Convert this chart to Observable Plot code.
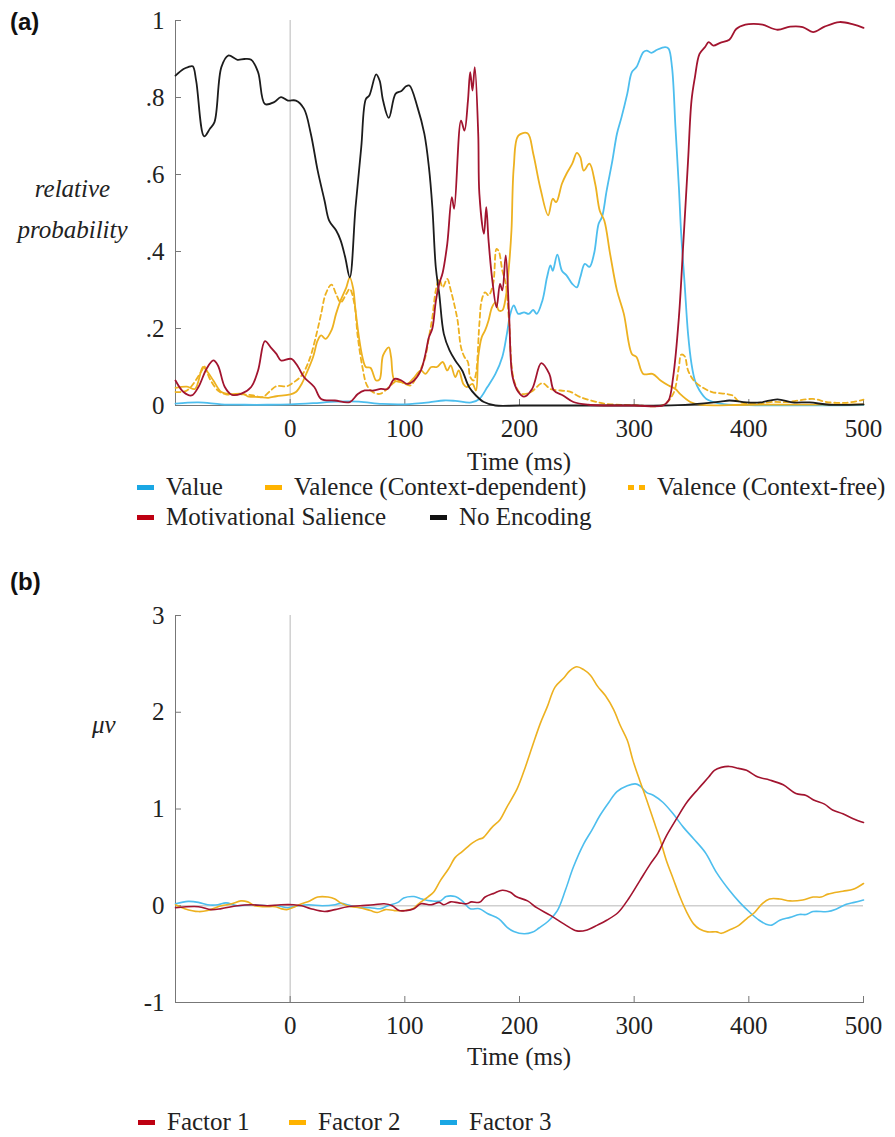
<!DOCTYPE html>
<html><head><meta charset="utf-8">
<script src="https://cdn.jsdelivr.net/npm/d3@7"></script>
<script src="https://cdn.jsdelivr.net/npm/@observablehq/plot@0.6"></script>
<style>
body{margin:0;background:#fff;}
#wrap{position:relative;width:895px;height:1137px;font-family:"Liberation Serif","Times New Roman",serif;color:#222;overflow:hidden}
.abs{position:absolute;white-space:nowrap;line-height:30px;height:30px}
.panel{font-family:"Liberation Sans",Arial,sans-serif;font-weight:bold;font-size:24px;color:#111;}
.lab{font-size:25px;}
.it{font-style:italic;}
.item{position:absolute;display:flex;align-items:center;font-size:25px;height:26px;line-height:26px;white-space:nowrap}
.sw{width:17px;height:5px;margin-right:12px;flex:none}
.svgbox{position:absolute;left:0}
</style></head>
<body><div id="wrap"></div>
<script>
// ---------- axis ticks ----------
const xTicks = [0, 100, 200, 300, 400, 500];
const xTickLabels = ["0", "100", "200", "300", "400", "500"];
const yTicksA = [0, 0.2, 0.4, 0.6, 0.8, 1];
const yTickLabelsA = ["0", ".2", ".4", ".6", ".8", "1"];
const yTicksB = [-1, 0, 1, 2, 3];
const yTickLabelsB = ["-1", "0", "1", "2", "3"];

// ---------- panel (a): relative probability ----------
const noEncT = [-100,-93,-89,-85,-82,-75,-70,-66,-60,-54,-46,-40,-34,-28,-22,-14,-8,-2,5,12,18,24,30,34,40,44,48,52,57,62,66,69,75,78,81,86,92,97,101,104,111,117,121,124,127,130,134,139,144,150,156,162,169,179,200,250,300,325,350,375,383,398,410,425,438,453,470,500];
const noEncP = [0.857,0.874,0.879,0.881,0.844,0.699,0.719,0.736,0.879,0.909,0.898,0.900,0.898,0.866,0.783,0.788,0.801,0.792,0.792,0.771,0.706,0.61,0.532,0.48,0.455,0.429,0.385,0.333,0.515,0.671,0.796,0.805,0.860,0.844,0.792,0.747,0.81,0.817,0.829,0.831,0.775,0.706,0.619,0.515,0.359,0.29,0.186,0.143,0.117,0.091,0.048,0.026,0.009,0.0,0.0,0.0,0.0,0.0,0.003,0.01,0.013,0.008,0.008,0.016,0.008,0.008,0.002,0.003];

const salT = [-100,-93,-86,-80,-73,-67,-63,-57,-51,-43,-34,-28,-22,-17,-12,-8,1,7,12,21,27,39,52,59,65,73,79,85,91,97,102,108,114,118,121,124,127,130,133,137,141,143,149,152,155,157,159,161,164,165,169,171,173,176,180,183,185,188,191,194,199,204,211,219,226,230,238,247,260,300,325,330,334,339,343,347,350,353,357,362,365,369,375,383,389,397,404,412,425,436,447,456,466,479,491,500];
const salP = [0.065,0.035,0.026,0.048,0.095,0.117,0.104,0.048,0.028,0.030,0.048,0.091,0.167,0.151,0.134,0.117,0.121,0.1,0.074,0.048,0.017,0.013,0.009,0.030,0.039,0.039,0.043,0.043,0.069,0.065,0.056,0.065,0.091,0.134,0.177,0.2,0.27,0.316,0.345,0.42,0.541,0.511,0.74,0.714,0.79,0.866,0.818,0.879,0.706,0.55,0.446,0.515,0.429,0.333,0.255,0.316,0.299,0.39,0.229,0.074,0.035,0.023,0.043,0.11,0.082,0.039,0.026,0.009,0.002,0.0,0.0,0.013,0.074,0.229,0.429,0.636,0.792,0.853,0.913,0.932,0.944,0.935,0.942,0.95,0.978,0.989,0.991,0.989,0.976,0.984,0.983,0.97,0.984,0.996,0.99,0.981];

const valueT = [-100,-80,-60,-40,-20,0,20,40,60,80,100,121,134,144,158,165,172,179,185,189,192,195,199,204,208,212,215,220,224,227,229,233,237,241,246,250,253,257,261,265,269,272,276,281,285,289,294,298,302,308,311,315,320,327,330,333,336,339,341,344,347,350,353,357,363,375,400,500];
const valueP = [0.005,0.008,0.003,0.002,0.002,0.003,0.006,0.01,0.01,0.004,0.003,0.008,0.013,0.012,0.008,0.017,0.048,0.082,0.126,0.186,0.238,0.26,0.238,0.242,0.238,0.248,0.238,0.273,0.333,0.364,0.35,0.392,0.35,0.338,0.316,0.307,0.333,0.368,0.36,0.394,0.472,0.49,0.558,0.636,0.706,0.749,0.81,0.866,0.879,0.918,0.922,0.916,0.924,0.931,0.927,0.879,0.723,0.567,0.446,0.316,0.186,0.108,0.065,0.039,0.017,0.005,0.001,0.001];

const valDepT = [-100,-90,-83,-76,-72,-67,-60,-53,-41,-37,-27,-19,-12,-1,5,10,14,20,24,27,31,36,40,44,49,52,55,57,60,63,66,70,75,78,81,86,88,91,97,102,107,114,118,123,128,133,137,140,144,147,151,154,159,162,164,167,170,173,176,179,182,185,188,191,193,195,199,207,212,218,225,229,232,237,241,246,250,253,256,261,266,270,274,279,285,291,298,302,308,316,323,330,336,340,349,357,400,500];
const valDepP = [0.046,0.049,0.043,0.1,0.087,0.065,0.035,0.03,0.03,0.024,0.022,0.02,0.024,0.028,0.035,0.056,0.082,0.126,0.169,0.182,0.173,0.195,0.238,0.273,0.307,0.333,0.303,0.247,0.177,0.126,0.1,0.098,0.065,0.068,0.13,0.151,0.126,0.065,0.061,0.056,0.069,0.091,0.082,0.1,0.1,0.113,0.091,0.104,0.074,0.091,0.056,0.048,0.056,0.039,0.126,0.177,0.195,0.221,0.255,0.268,0.247,0.247,0.281,0.368,0.455,0.619,0.701,0.707,0.654,0.567,0.494,0.537,0.528,0.576,0.602,0.628,0.656,0.645,0.61,0.628,0.576,0.506,0.48,0.394,0.299,0.238,0.134,0.126,0.082,0.082,0.065,0.052,0.043,0.03,0.009,0.002,0.002,0.003];

const valFreeT = [-100,-90,-77,-75,-70,-63,-56,-41,-32,-24,-17,-12,-3,2,10,17,23,27,31,36,40,44,49,52,56,59,63,67,72,78,83,89,94,99,105,110,117,121,124,127,130,133,137,140,143,146,149,152,155,157,160,162,165,167,170,173,177,180,182,185,188,191,194,198,202,210,220,227,236,244,253,265,276,300,325,334,339,341,344,347,352,359,368,380,386,392,410,419,433,456,468,485,500];
const valFreeP = [0.035,0.039,0.091,0.102,0.069,0.039,0.029,0.029,0.026,0.022,0.039,0.05,0.05,0.058,0.078,0.121,0.186,0.238,0.29,0.314,0.29,0.268,0.29,0.303,0.264,0.177,0.1,0.052,0.035,0.03,0.039,0.056,0.065,0.058,0.052,0.074,0.117,0.177,0.229,0.299,0.329,0.307,0.329,0.3,0.264,0.221,0.151,0.126,0.113,0.074,0.065,0.082,0.212,0.273,0.294,0.286,0.316,0.407,0.4,0.351,0.316,0.212,0.082,0.043,0.03,0.035,0.058,0.043,0.039,0.036,0.022,0.011,0.004,0.001,0.001,0.03,0.1,0.132,0.128,0.091,0.065,0.048,0.035,0.03,0.026,0.009,0.005,0.009,0.009,0.017,0.009,0.007,0.015];

// ---------- panel (b): factor loadings (µv) ----------
const f1T = [-100,-80,-69,-60,-46,-34,-20,-8,3,10,18,30,39,50,61,73,82,89,95,101,108,114,123,130,134,140,147,154,158,165,170,178,185,192,197,207,215,227,239,250,259,268,276,286,295,305,314,321,328,337,346,356,365,370,376,383,391,398,408,418,430,441,450,457,466,473,482,491,500];
const f1V = [-0.02,-0.01,-0.04,-0.03,0,0.01,0,0.01,0.01,0,-0.03,-0.06,-0.04,-0.01,0,0.01,0.02,0,-0.05,-0.05,-0.03,0.02,0.01,0.035,0.01,0.04,0.03,0.02,0.04,0.035,0.09,0.13,0.16,0.14,0.095,0.05,-0.02,-0.10,-0.19,-0.26,-0.25,-0.2,-0.15,-0.07,0.07,0.26,0.43,0.55,0.72,0.90,1.07,1.21,1.33,1.40,1.43,1.44,1.42,1.40,1.33,1.30,1.25,1.16,1.14,1.09,1.05,0.99,0.95,0.90,0.86];

const f2T = [-100,-92,-80,-72,-60,-51,-43,-37,-31,-22,-13,-8,-3,2,10,17,24,33,39,44,53,61,70,76,83,91,99,107,112,120,125,131,138,144,149,153,159,165,168,176,183,189,198,205,211,218,224,231,239,244,250,256,262,268,275,282,288,294,299,305,311,317,323,328,334,340,346,352,357,364,372,376,383,391,398,405,412,418,427,436,447,456,463,469,482,491,500];
const f2V = [0.01,-0.03,-0.06,-0.05,0,0.02,0.05,0.04,0,-0.01,-0.01,-0.03,-0.04,-0.02,0.02,0.05,0.09,0.09,0.07,0.03,-0.01,-0.02,-0.05,-0.07,-0.04,-0.05,-0.05,-0.03,0.02,0.09,0.14,0.26,0.38,0.5,0.55,0.59,0.65,0.69,0.70,0.81,0.89,1.02,1.21,1.43,1.64,1.88,2.05,2.26,2.36,2.43,2.47,2.44,2.38,2.27,2.17,2.03,1.86,1.71,1.50,1.29,1.09,0.88,0.67,0.47,0.28,0.09,-0.07,-0.19,-0.24,-0.27,-0.27,-0.285,-0.25,-0.205,-0.135,-0.07,0.025,0.07,0.07,0.05,0.06,0.09,0.09,0.12,0.15,0.17,0.23];

const f3T = [-100,-89,-80,-72,-63,-56,-46,-34,-20,-11,-2,7,16,28,39,44,53,61,70,79,85,94,99,108,115,123,131,136,144,150,157,165,172,182,189,195,204,211,217,225,233,240,247,256,263,270,278,285,294,301,305,311,317,325,334,343,352,362,372,383,392,401,409,415,420,427,436,444,450,456,469,476,485,492,500];
const f3V = [0.02,0.045,0.035,0.01,0.01,0.03,0,0.01,0,0,-0.02,0,0.01,0,0.01,0.025,0,-0.02,-0.02,-0.03,0,0.035,0.08,0.095,0.07,0.05,0.05,0.095,0.095,0.05,-0.03,-0.03,-0.08,-0.135,-0.22,-0.265,-0.29,-0.275,-0.23,-0.16,-0.05,0.16,0.40,0.64,0.78,0.93,1.07,1.18,1.24,1.26,1.24,1.17,1.14,1.07,0.95,0.81,0.69,0.55,0.34,0.16,0.035,-0.07,-0.15,-0.19,-0.2,-0.15,-0.12,-0.09,-0.09,-0.06,-0.06,-0.035,0.015,0.035,0.06];

// ---------- colours ----------
const C_VALUE = "#4DBEEE", C_VAL = "#EDB120", C_SAL = "#A2142F", C_NONE = "#1c1c1c";

const rows = (t, v) => t.map((x, i) => ({t: x, v: v[i]}));
const wrap = document.getElementById("wrap");

function axes(yTicks, yLabels) {
  return [
    Plot.axisX({ticks: xTicks, tickFormat: d => xTickLabels[xTicks.indexOf(d)], tickSize: -6, tickPadding: 20, stroke: "#777", fill: "#222", label: null}),
    Plot.axisY({ticks: yTicks, tickFormat: d => yLabels[yTicks.indexOf(d)], tickSize: -6, tickPadding: 17, stroke: "#777", fill: "#222", label: null})
  ];
}
const style = {fontFamily: "'Liberation Serif','Times New Roman',serif", fontSize: "25px", background: "transparent", overflow: "visible"};
const line = (t, v, stroke, extra = {}) => Plot.line(rows(t, v), {x: "t", y: "v", stroke, strokeWidth: 1.8, curve: "catmull-rom", ...extra});

const plotA = Plot.plot({
  width: 895, height: 445,
  marginTop: 20, marginBottom: 40, marginLeft: 175, marginRight: 32,
  x: {domain: [-100, 500]},
  y: {domain: [0, 1]},
  style,
  marks: [
    Plot.ruleX([0], {stroke: "#c4c4c4", strokeWidth: 1.2}),
    Plot.frame({anchor: "left", stroke: "#777"}),
    Plot.frame({anchor: "bottom", stroke: "#777"}),
    ...axes(yTicksA, yTickLabelsA),
    line(valueT, valueP, C_VALUE),
    line(valDepT, valDepP, C_VAL),
    line(valFreeT, valFreeP, C_VAL, {strokeDasharray: "5,3.5"}),
    line(noEncT, noEncP, C_NONE),
    line(salT, salP, C_SAL)
  ]
});

const plotB = Plot.plot({
  width: 895, height: 445,
  marginTop: 20, marginBottom: 38, marginLeft: 175, marginRight: 32,
  x: {domain: [-100, 500]},
  y: {domain: [-1, 3]},
  style,
  marks: [
    Plot.ruleX([0], {stroke: "#c4c4c4", strokeWidth: 1.2}),
    Plot.ruleY([0], {stroke: "#cfcfcf", strokeWidth: 1.6}),
    Plot.frame({anchor: "left", stroke: "#777"}),
    Plot.frame({anchor: "bottom", stroke: "#777"}),
    ...axes(yTicksB, yTickLabelsB),
    line(f3T, f3V, C_VALUE, {strokeWidth: 1.6}),
    line(f2T, f2V, C_VAL, {strokeWidth: 1.6}),
    line(f1T, f1V, C_SAL, {strokeWidth: 1.6})
  ]
});

function place(node, top) {
  const d = document.createElement("div");
  d.className = "svgbox"; d.style.top = top + "px";
  d.appendChild(node); wrap.appendChild(d);
}
place(plotA, 0);
place(plotB, 595);

function text(str, cls, left, cy, extra = "") {
  const d = document.createElement("div");
  d.className = "abs " + cls;
  d.style.cssText = `left:${left}px;top:${cy - 15}px;${extra}`;
  d.textContent = str; wrap.appendChild(d); return d;
}
text("(a)", "panel", 10, 22);
text("(b)", "panel", 10, 582);
text("Time (ms)", "lab", 419, 462, "width:200px;text-align:center");
text("Time (ms)", "lab", 419, 1057, "width:200px;text-align:center");
text("relative", "lab it", 0, 189, "width:145px;text-align:center");
text("probability", "lab it", 0, 230, "width:145px;text-align:center");
text("\u03BCv", "lab it", 92, 725);

// ---------- legends ----------
const legendA = [
  {label: "Value", color: "#1AA7E4", left: 137, cy: 487},
  {label: "Valence (Context-dependent)", color: "#FFB300", left: 265, cy: 487},
  {label: "Valence (Context-free)", color: "#FFB300", left: 628, cy: 487, dashed: true},
  {label: "Motivational Salience", color: "#BE0012", left: 137, cy: 517},
  {label: "No Encoding", color: "#111", left: 430, cy: 517}
];
const legendB = [
  {label: "Factor 1", color: "#BE0012", left: 138, cy: 1122},
  {label: "Factor 2", color: "#FFB300", left: 289, cy: 1122},
  {label: "Factor 3", color: "#1AA7E4", left: 440, cy: 1122}
];
for (const it of [...legendA, ...legendB]) {
  const d = document.createElement("div");
  d.className = "item";
  d.style.left = it.left + "px"; d.style.top = (it.cy - 13) + "px";
  const s = document.createElement("span");
  s.className = "sw";
  s.style.background = it.dashed
    ? `linear-gradient(to right, ${it.color} 0 6px, transparent 6px 11px, ${it.color} 11px 17px)`
    : it.color;
  d.appendChild(s);
  d.appendChild(document.createTextNode(it.label));
  wrap.appendChild(d);
}
</script>
</body></html>
